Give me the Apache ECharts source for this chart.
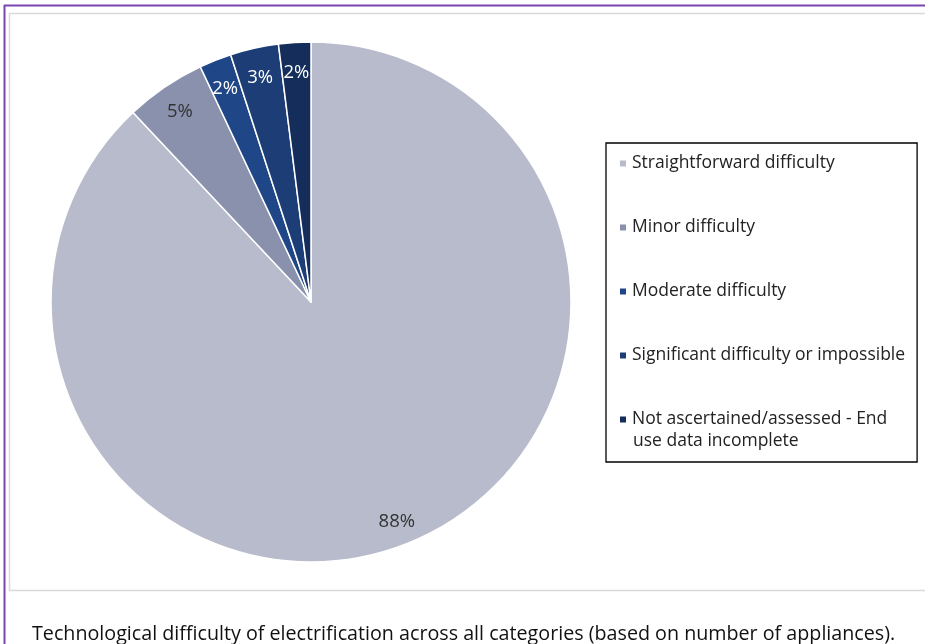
<!DOCTYPE html>
<html>
<head>
<meta charset="utf-8">
<script src="https://cdn.jsdelivr.net/npm/echarts@6/dist/echarts.min.js"></script>
<style>
  html, body { margin: 0; padding: 0; background: #ffffff; }
  #chart { width: 925px; height: 644px; }
</style>
</head>
<body>
<div id="chart"></div>
<script>
// Categories and shares (%) of appliances by technological difficulty
const categories = [
  'Straightforward difficulty',
  'Minor difficulty',
  'Moderate difficulty',
  'Significant difficulty or impossible',
  'Not ascertained/assessed - End use data incomplete'
];
// legend text per category; the last one wraps onto a second line
const legendFirstLines = [
  'Straightforward difficulty',
  'Minor difficulty',
  'Moderate difficulty',
  'Significant difficulty or impossible',
  'Not ascertained/assessed - End'
];
const legendWrapLine = 'use data incomplete';
const shares = [88, 5, 2, 3, 2];
const sliceColors = ['#b8bbcb', '#8a91ad', '#1f4788', '#1c3d76', '#142d5b'];
const labelColors = ['#333333', '#333333', '#ffffff', '#ffffff', '#ffffff'];
const caption = 'Technological difficulty of electrification across all categories (based on number of appliances).';

const FONT = '"Open Sans", "Noto Sans", sans-serif';
const CX = 311, CY = 302, R = 260;
const LEGEND_FONT = 17.5;

const pieData = categories.map((name, i) => ({
  name: name,
  value: shares[i],
  itemStyle: { color: sliceColors[i] }
}));

const labelData = categories.map((name, i) => ({
  name: name,
  value: shares[i],
  label: { color: labelColors[i] }
}));

const chart = echarts.init(document.getElementById('chart'), null, { renderer: 'canvas' });

chart.setOption({
  animation: false,
  backgroundColor: '#ffffff',
  graphic: [
    // outer page frame
    { type: 'line', z: 0, shape: { x1: 4.5, y1: 5, x2: 4.5, y2: 644 }, style: { stroke: '#7b45b0', lineWidth: 2 }, silent: true },
    { type: 'line', z: 0, shape: { x1: 4, y1: 5.5, x2: 925, y2: 5.5 }, style: { stroke: '#7b45b0', lineWidth: 2 }, silent: true },
    // chart area border
    { type: 'rect', z: 0, shape: { x: 9.5, y: 13.5, width: 930, height: 577 }, style: { fill: 'none', stroke: '#d9d9d9', lineWidth: 1.5 }, silent: true },
    // second line of the last legend entry
    {
      type: 'text', z: 100, left: 633, top: 432, silent: true,
      style: { text: legendWrapLine, font: LEGEND_FONT + 'px ' + FONT, fill: '#222222' }
    },
    // caption
    {
      type: 'text', left: 32, top: 624, silent: true,
      style: { text: caption, font: '19.7px ' + FONT, fill: '#111111' }
    }
  ],
  legend: {
    orient: 'vertical',
    left: 606,
    top: 143,
    padding: [8.5, 12, 30.5, 12],
    borderColor: '#000000',
    borderWidth: 1.3,
    backgroundColor: '#ffffff',
    itemWidth: 8,
    itemHeight: 8,
    itemGap: 40,
    icon: 'rect',
    data: categories,
    formatter: function (name) {
      return legendFirstLines[categories.indexOf(name)];
    },
    textStyle: { fontFamily: FONT, fontSize: LEGEND_FONT, color: '#222222', lineHeight: 24 }
  },
  series: [
    {
      type: 'pie',
      center: [CX, CY],
      radius: [0, R],
      startAngle: 90,
      clockwise: true,
      data: pieData,
      label: { show: false },
      labelLine: { show: false },
      itemStyle: { borderColor: '#ffffff', borderWidth: 1.5 },
      emphasis: { disabled: true }
    },
    {
      // transparent ring that carries the percentage labels near the rim
      type: 'pie',
      center: [CX, CY],
      radius: [R * 0.77, R],
      startAngle: 90,
      clockwise: true,
      data: labelData,
      silent: true,
      legendHoverLink: false,
      itemStyle: { color: 'rgba(0,0,0,0)' },
      label: {
        show: true,
        position: 'inside',
        formatter: '{c}%',
        fontFamily: FONT,
        fontSize: 18.5,
        offset: [0, 3]
      },
      labelLine: { show: false },
      emphasis: { disabled: true }
    }
  ]
});
</script>
</body>
</html>
